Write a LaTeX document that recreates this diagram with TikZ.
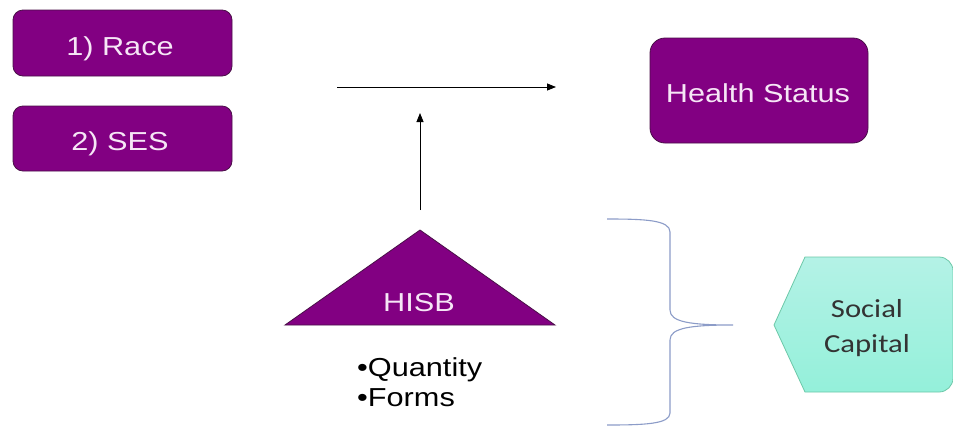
\documentclass[tikz,border=0pt]{standalone}
\usepackage{fontspec}
\usepackage{graphicx}
\setmainfont{Liberation Sans}
\newfontfamily\calfont{Carlito}
\usetikzlibrary{arrows.meta}
\definecolor{purp}{HTML}{820082}
\definecolor{purpedge}{HTML}{4A1048}
\definecolor{purptext}{HTML}{F6E6F6}
\definecolor{bracecol}{HTML}{8C9CC8}
\definecolor{aquaedge}{HTML}{6CC8A8}
\definecolor{aquatop}{HTML}{B4F2E6}
\definecolor{aquabot}{HTML}{94F0DA}
\newcommand{\sx}[1]{\scalebox{1.18}[1]{#1}}
\tikzset{
  purpbox/.style={draw=purpedge, line width=0.8pt, fill=purp, rounded corners=10pt, inner sep=0pt},
  plain/.style={font=\fontsize{26}{30}\selectfont, inner sep=0pt},
  boxtext/.style={plain, text=purptext, anchor=base},
  calt/.style={font=\calfont\fontsize{26}{30}\selectfont, text=black!80, anchor=base, inner sep=0pt},
  conn/.style={-{Triangle[length=9pt,width=7pt]}, line width=0.8pt, black}
}
\begin{document}
\begin{tikzpicture}[x=1pt,y=-1pt]
\useasboundingbox (0,0) rectangle (953,426);
\fill[white] (0,0) rectangle (953,426);

\node[purpbox, minimum width=219pt, minimum height=66pt] (race) at (122.5,43) {};
\node[boxtext] (racet) at (120,55) {\sx{1) Race}};
\node[purpbox, minimum width=219pt, minimum height=65pt] (ses) at (122.5,138.5) {};
\node[boxtext] (sest) at (120,150) {\sx{2) SES}};
\node[purpbox, minimum width=218pt, minimum height=105pt, rounded corners=15pt] (health) at (759,90.5) {};
\node[boxtext] (healtht) at (758,102) {\sx{Health Status}};

% arrows
\coordinate (hstart) at (337,87);
\coordinate (hend) at (556,87);
\draw[conn] (hstart) -- (hend);
\coordinate (vstart) at (420,210);
\coordinate (vend) at (420,113);
\draw[conn] (vstart) -- (vend);

% triangle
\coordinate (tapex) at (420,230);
\coordinate (tleft) at (285,325);
\coordinate (tright) at (555,325);
\draw[draw=purpedge, line width=0.8pt, fill=purp] (tapex) -- (tleft) -- (tright) -- cycle;
\node[boxtext] (hisb) at (419,311) {\sx{HISB}};

% bullets
\node[plain, anchor=base west] (qty) at (357,376) {\sx{\textbullet Quantity}};
\node[plain, anchor=base west] (frm) at (357,406) {\sx{\textbullet Forms}};

% brace
\draw[bracecol, line width=1.1pt]
  (607,219) .. controls (645,219) and (670,220) .. (670,232)
  -- (670,310) .. controls (670,322) and (690,325) .. (733,325)
  .. controls (690,325) and (670,328) .. (670,340)
  -- (670,413) .. controls (670,424) and (645,425) .. (607,425);

% social capital
\begin{scope}
\clip (0,0) rectangle (953,426);
\draw[draw=aquaedge, line width=0.8pt, top color=aquatop, bottom color=aquabot]
  (774,325) -- (805,257) [rounded corners=14pt] -- (953,257) -- (953,392) [sharp corners] -- (805,392) -- cycle;
\end{scope}
\node[calt] (soc) at (867,317) {\sx{Social}};
\node[calt] (cap) at (867,352) {\sx{Capital}};
\end{tikzpicture}
\end{document}
